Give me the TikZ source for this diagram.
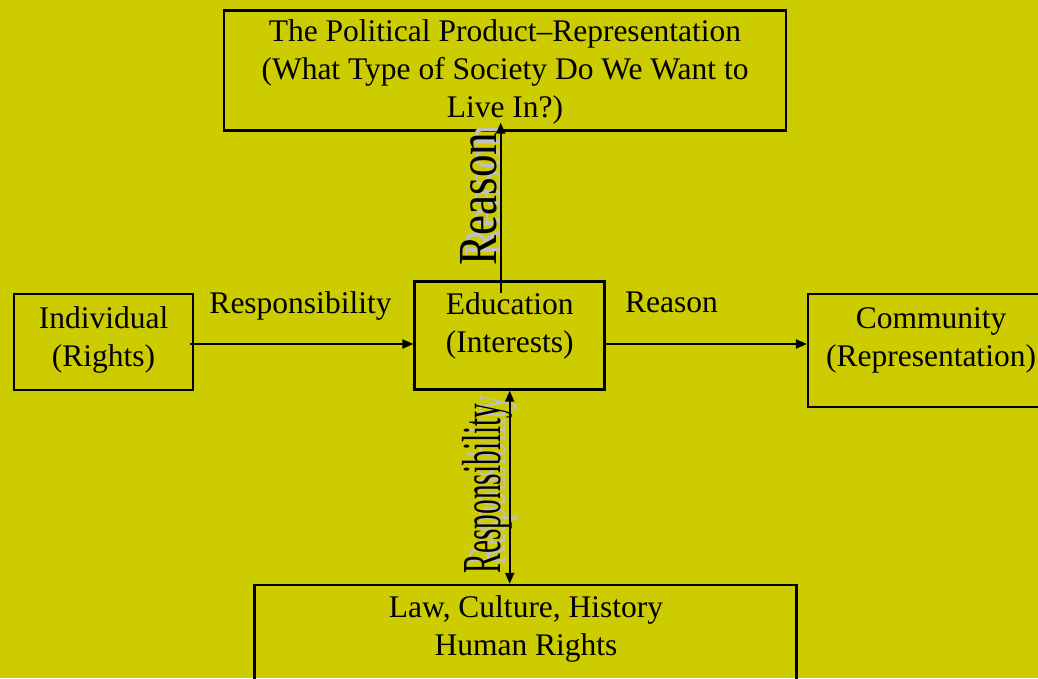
\documentclass[tikz,border=0pt]{standalone}
\usepackage{fontspec}
\setmainfont{Liberation Serif}
\usepackage{graphicx}
\usetikzlibrary{arrows.meta}
\definecolor{olivebg}{RGB}{204,204,0}
\definecolor{shadowgrey}{RGB}{192,192,192}

\begin{document}
\begin{tikzpicture}[x=1pt, y=-1pt,
    box/.style={rectangle, draw=black, line width=2.5pt, inner sep=0pt},
    txt/.style={align=center, inner sep=0pt, font=\fontsize{31.5}{38}\selectfont},
    tall/.style={rotate=90, inner sep=0pt, font=\fontsize{55}{60}\selectfont},
    arrow/.style={-{Triangle[length=11pt,width=9pt]}, line width=2pt},
    dblarrow/.style={{Triangle[length=11pt,width=9pt]}-{Triangle[length=11pt,width=9pt]}, line width=2pt}
]

\useasboundingbox (0,0) rectangle (1038,678);
\fill[olivebg] (0,0) rectangle (1038,678);
\clip (0,0) rectangle (1038,678);

% boxes
\node[box, minimum width=562pt, minimum height=120pt] (top)  at (505,70.3)  {};
\node[box, minimum width=179pt, minimum height=96pt]  (ind)  at (103.5,342) {};
\node[box, minimum width=190pt, minimum height=108pt] (edu)  at (509.7,335.4) {};
\node[box, minimum width=245pt, minimum height=113pt] (comm) at (930.7,350.5) {};
\node[box, minimum width=542pt, minimum height=120pt] (law)  at (525.7,645) {};

% box texts
\node[txt] (toptxt)  at (505,72)      {The Political Product--Representation\\(What Type of Society Do We Want to\\Live In?)};
\node[txt] (indtxt)  at (103.5,339.5) {Individual\\(Rights)};
\node[txt] (edutxt)  at (509.7,325.5) {Education\\(Interests)};
\node[txt] (commtxt) at (931,340)     {Community\\(Representation)};
\node[txt] (lawtxt)  at (526,629)     {Law, Culture, History\\Human Rights};

% arrow labels
\node[txt] (resplbl) at (300.5,305.6) {Responsibility};
\node[txt] (reaslbl) at (671.5,302.6) {Reason};
\node[tall, shadowgrey] at (483.8,191) {\scalebox{0.82}[1]{Reason}};
\node[tall] (reasup) at (478.8,199) {\scalebox{0.82}[1]{Reason}};
\node[tall, shadowgrey] at (492,480.5) {\scalebox{0.535}[1]{Responsibility}};
\node[tall] (respup) at (487,488.5) {\scalebox{0.535}[1]{Responsibility}};

% connectors
\draw[arrow, shorten <=-4pt] ([yshift=-2pt]ind.east) -- ([yshift=-2pt]ind.east -| edu.west);
\draw[arrow] ([yshift=-2pt]edu.east |- ind.east) -- ([yshift=-2pt]ind.east -| comm.west);
\draw[arrow, shorten <=-13pt, shorten >=-9pt] ([xshift=-9pt]edu.north) -- ([xshift=-9pt]edu.north |- top.south);
\draw[dblarrow] (edu.south) -- (edu.south |- law.north);

\end{tikzpicture}
\end{document}
